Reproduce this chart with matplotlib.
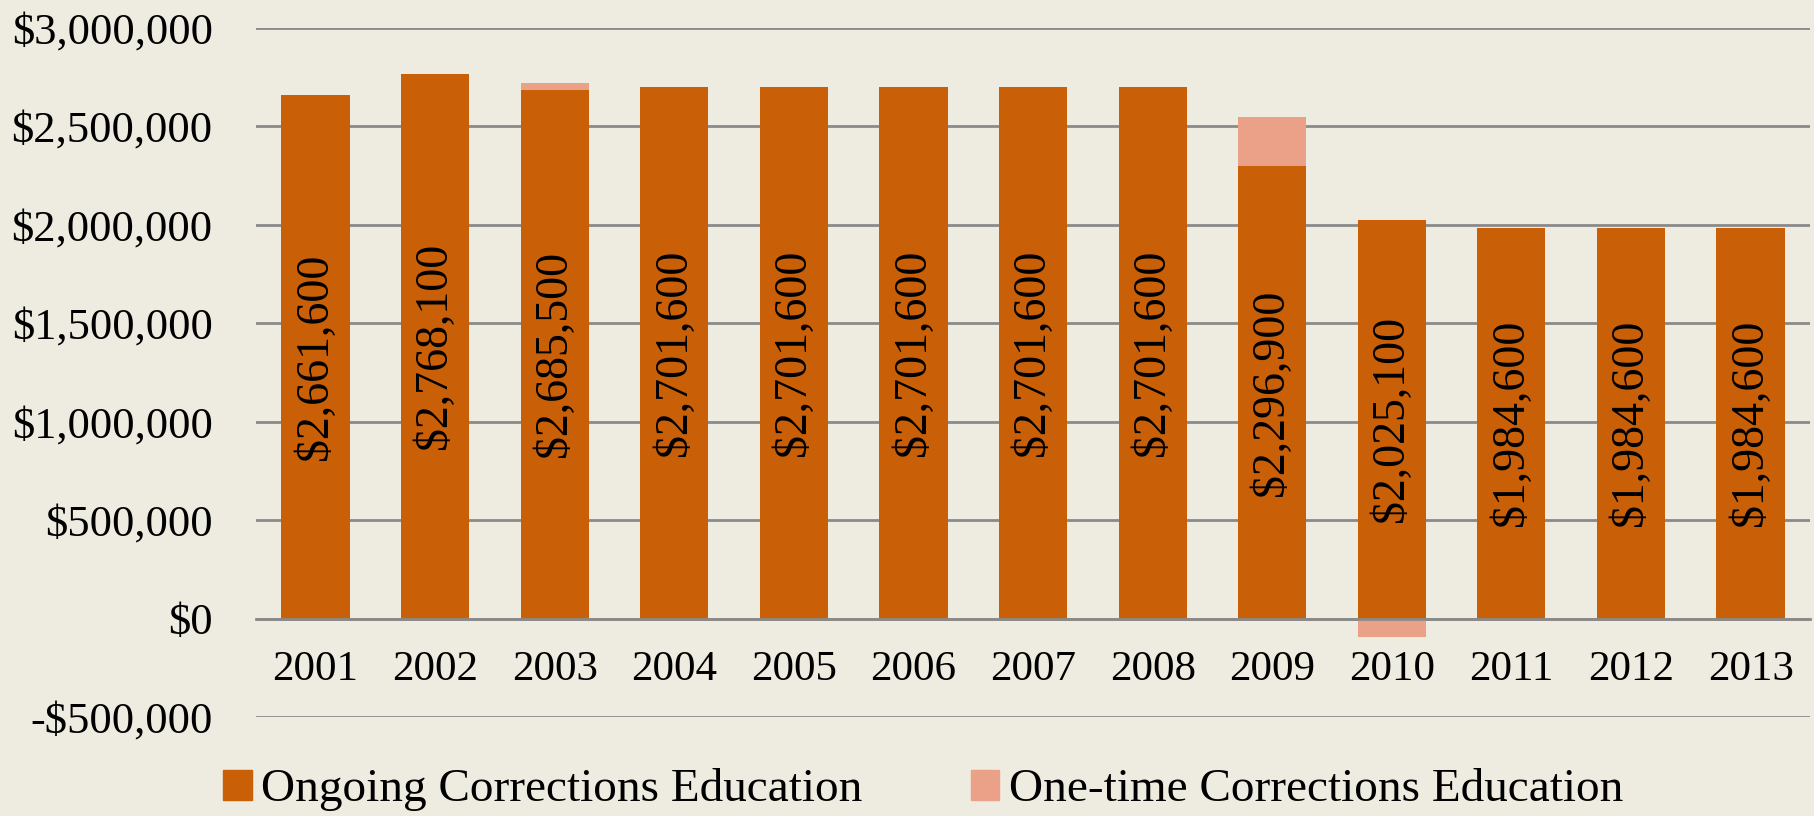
import matplotlib.pyplot as plt
from matplotlib.patches import Patch
from matplotlib.ticker import FuncFormatter

years = ['2001', '2002', '2003', '2004', '2005', '2006', '2007',
         '2008', '2009', '2010', '2011', '2012', '2013']
ongoing = [2661600, 2768100, 2685500, 2701600, 2701600, 2701600, 2701600,
           2701600, 2296900, 2025100, 1984600, 1984600, 1984600]
one_time = [0, 0, 35000, 0, 0, 0, 0, 0, 250000, -96000, 0, 0, 0]

bg = '#EEEBE0'
c_ongoing = '#C95F07'
c_onetime = '#EBA088'

plt.rcParams['font.family'] = ['Liberation Serif', 'DejaVu Serif']

fig = plt.figure(figsize=(18.14, 8.16), dpi=100, facecolor=bg)
ax = fig.add_axes([0.141, 0.1213, 0.857, 0.8444], facecolor=bg)

x = list(range(len(years)))
# one-time goes on top of ongoing when positive, below zero when negative
bottoms = [o if t > 0 else 0 for o, t in zip(ongoing, one_time)]

bars = ax.bar(x, ongoing, width=0.57, color=c_ongoing, zorder=2)
ax.bar(x, one_time, width=0.57, bottom=bottoms, color=c_onetime, zorder=2)

ax.bar_label(bars, labels=['${:,.0f}'.format(v) for v in ongoing],
             label_type='center', rotation=90, fontsize=33, color='black')

ax.set_xlim(-0.5, len(years) - 0.5)
ax.set_ylim(-500000, 3000000)
ax.set_yticks(range(-500000, 3000001, 500000))
ax.yaxis.set_major_formatter(FuncFormatter(
    lambda v, p: ('-$' if v < 0 else '$') + '{:,.0f}'.format(abs(v))))
ax.grid(axis='y', color='#8A8A8A', linewidth=2, zorder=0)
ax.set_axisbelow(True)

ax.set_xticks(x)
ax.set_xticklabels(years)
ax.spines['bottom'].set_position(('data', 0))
ax.spines['bottom'].set_color('#8A8A8A')
ax.spines['bottom'].set_linewidth(2)
for s in ['top', 'right', 'left']:
    ax.spines[s].set_visible(False)
ax.tick_params(axis='x', length=0, pad=23, labelsize=31)
ax.tick_params(axis='y', length=0, pad=31, labelsize=32)

handles = [Patch(color=c_ongoing), Patch(color=c_onetime)]
fig.legend(handles, ['Ongoing Corrections Education', 'One-time Corrections Education'],
           loc='center', bbox_to_anchor=(0.509, 0.032), ncol=2, frameon=False,
           fontsize=34, handlelength=0.6, handleheight=0.6, handletextpad=0.2,
           columnspacing=2.3, borderaxespad=0)

fig.savefig('out.png', dpi=100, facecolor=bg)
